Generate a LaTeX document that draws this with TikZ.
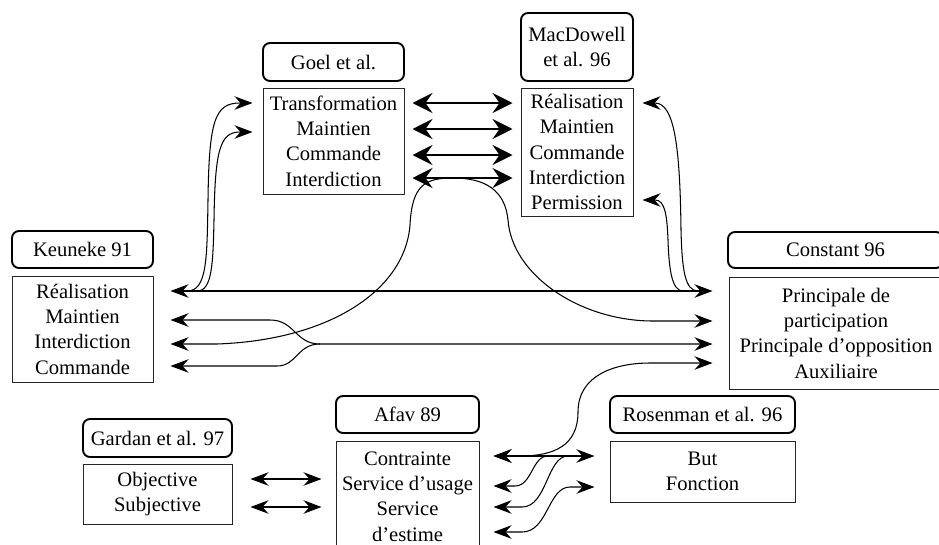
\documentclass[tikz,border=0pt]{standalone}
\usepackage{fontspec}
\setmainfont{Liberation Serif}
\usetikzlibrary{arrows.meta}
\begin{document}
\begin{tikzpicture}[x=1pt,y=-1pt,
  every node/.style={font=\fontsize{20.6}{25.3}\selectfont, align=center, inner sep=0pt},
  hdr/.style={draw, line width=1.9pt, rounded corners=7pt},
  body/.style={draw=black!85, line width=1pt},
  ln/.style={line width=1.05pt},
  ar/.style={ln, {Stealth[length=18pt,width=13.5pt,inset=6pt]}-{Stealth[length=18pt,width=13.5pt,inset=6pt]}},
  la/.style={ln, {Stealth[length=18pt,width=13.5pt,inset=6pt]}-},
  bar/.style={line width=1.9pt, {Stealth[length=20pt,width=20pt,inset=7pt]}-{Stealth[length=20pt,width=20pt,inset=7pt]}}
]
\useasboundingbox (0,0) rectangle (939,544);
\clip (0,0) rectangle (939,544);

% boxes
\node[hdr, minimum width=141pt, minimum height=38pt] (goelh) at (333.5,62) {Goel et al.};
\node[body, minimum width=141pt, minimum height=106pt] (goel) at (333.5,141) {Transformation\\Maintien\\Commande\\Interdiction};
\node[hdr, minimum width=112pt, minimum height=68pt] (macdh) at (577,47) {MacDowell\\et al. 96};
\node[body, minimum width=112pt, minimum height=128pt] (macd) at (577,152) {Réalisation\\Maintien\\Commande\\Interdiction\\Permission};
\node[hdr, minimum width=141pt, minimum height=37pt] (keunh) at (82.5,249.5) {Keuneke 91};
\node[body, minimum width=141pt, minimum height=106pt] (keun) at (82.5,329) {Réalisation\\Maintien\\Interdiction\\Commande};
\node[hdr, minimum width=215pt, minimum height=36pt] (consh) at (835.5,250) {Constant 96};
\node[body, minimum width=214pt, minimum height=112pt] (cons) at (836,333) {Principale de\\participation\\Principale d’opposition\\Auxiliaire};
\node[hdr, minimum width=149pt, minimum height=38pt] (gardh) at (157.5,438) {Gardan et al. 97};
\node[body, minimum width=149pt, minimum height=60pt] (gard) at (157.5,494) {Objective\\Subjective};
\node[hdr, minimum width=143pt, minimum height=37pt] (afavh) at (407.5,414.5) {Afav 89};
\node[body, minimum width=143pt, minimum height=111pt] (afav) at (407.5,496.5) {Contrainte\\Service d’usage\\Service\\d’estime};
\node[hdr, minimum width=185pt, minimum height=37pt] (roseh) at (702.5,414.5) {Rosenman et al. 96};
\node[body, minimum width=185pt, minimum height=61pt] (rose) at (702.5,471.5) {But\\Fonction};

% connector ends
\path (keun.east |- 0,291) ++(17,0) coordinate (kR);
\path (keun.east |- 0,320) ++(17,0) coordinate (kM);
\path (keun.east |- 0,344) ++(17,0) coordinate (kI);
\path (keun.east |- 0,366) ++(17,0) coordinate (kC);
\path (cons.west |- 0,291) ++(-16,0) coordinate (cP);
\path (cons.west |- 0,321) ++(-16,0) coordinate (cPa);
\path (cons.west |- 0,344) ++(-16,0) coordinate (cO);
\path (cons.west |- 0,363) ++(-16,0) coordinate (cA);
\path (goel.west |- 0,103) ++(-10,0) coordinate (gT);
\path (goel.west |- 0,132) ++(-10,0) coordinate (gM);
\path (macd.east |- 0,103) ++(9,0) coordinate (mR);
\path (macd.east |- 0,200) ++(9,0) coordinate (mP);
\path (afav.east |- 0,456) ++(14,0) coordinate (aC);
\path (afav.east |- 0,486) ++(14,0) coordinate (aU);
\path (afav.east |- 0,507) ++(14,0) coordinate (aS);
\path (afav.east |- 0,532) ++(14,0) coordinate (aE);
\path (rose.west |- 0,456) ++(-15,0) coordinate (rB);
\path (rose.west |- 0,487) ++(-15,0) coordinate (rF);
\path (gard.east |- 0,479) ++(18,0) coordinate (gO);
\path (gard.east |- 0,507) ++(18,0) coordinate (gS);
\path (afav.west |- 0,479) ++(-14,0) coordinate (aO);
\path (afav.west |- 0,507) ++(-14,0) coordinate (aSb);

% Goel <-> MacDowell
\foreach \y [count=\i] in {103,129,155,178} {
  \path (goel.east |- 0,\y) ++(8,0) coordinate (gb\i);
  \path (macd.west |- 0,\y) ++(-8,0) coordinate (mb\i);
  \draw[bar] (gb\i) -- (mb\i);
}

% Keuneke <-> Constant
\draw[ar] (kR) -- (cP);
\draw[la] (gT) -- (240,103) .. controls (215,103) and (209,120) .. (208,200) .. controls (207,260) and (207,291) .. (187,291);
\draw[la] (gM) -- (240,132) .. controls (220,132) and (215,150) .. (214,220) .. controls (213,265) and (212,291) .. (197,291);
\draw[la] (mR) -- (655,103) .. controls (675,103) and (680,150) .. (681,230) .. controls (682,270) and (685,291) .. (698,291);
\draw[la] (mP) -- (655,200) .. controls (665,200) and (667,215) .. (668,240) .. controls (669,270) and (672,291) .. (683,291);
\draw[ar] (kI) -- (217,344) .. controls (330,340) and (405,290) .. (410,225) .. controls (412,185) and (425,178) .. (453,178) .. controls (485,178) and (505,190) .. (508,220) .. controls (512,275) and (580,321) .. (653,321) -- (cPa);
\draw[ar] (kM) -- (270,320) .. controls (295,320) and (295,344) .. (320,344) -- (cO);
\draw[la] (kC) -- (277,366) .. controls (297,366) and (297,344) .. (320,344);

% Constant <-> Afav
\draw[ar] (cA) -- (650,363) .. controls (615,363) and (578,375) .. (578,412) .. controls (578,445) and (555,456) .. (520,456) -- (aC);

% Afav <-> Rosenman
\draw[ar] (aC) -- (rB);
\draw[la] (aU) -- (515,486) .. controls (532,486) and (532,456) .. (548,456);
\draw[la] (aS) -- (522,507) .. controls (547,507) and (547,456) .. (568,456);
\draw[ar] (aE) -- (522,532) .. controls (548,532) and (548,487) .. (570,487) -- (rF);

% Gardan <-> Afav
\draw[ar] (gO) -- (aO);
\draw[ar] (gS) -- (aSb);
\end{tikzpicture}
\end{document}
